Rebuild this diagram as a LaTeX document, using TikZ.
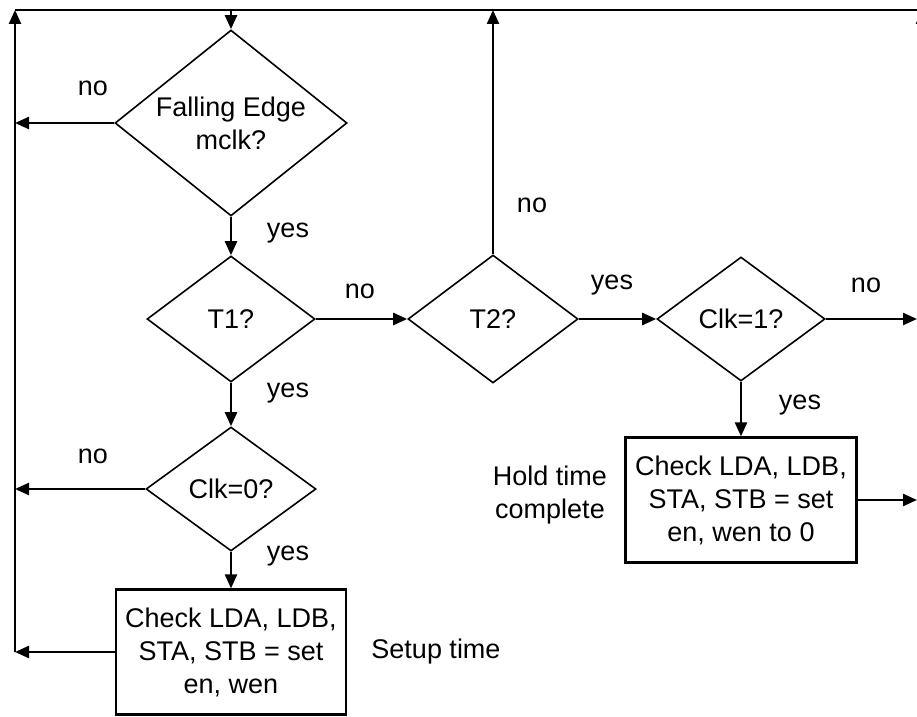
\documentclass[tikz,border=0pt]{standalone}
\usepackage{fontspec}
\setmainfont{Liberation Sans}
\usetikzlibrary{shapes.geometric,arrows.meta}

\begin{document}
\begin{tikzpicture}[x=0.5pt,y=-0.5pt,
  every node/.style={font=\fontsize{13.5}{16.5}\selectfont},
  decision/.style={draw, diamond, aspect=1.25, line width=0.8pt, inner sep=0pt, align=center},
  action/.style={draw, rectangle, line width=1.1pt, inner sep=0pt, align=center},
  flow/.style={line width=1.2pt, -{Triangle[length=7pt,width=6pt]}},
  plain/.style={line width=1.2pt}]
             \useasboundingbox (0,0) rectangle (917,717);

             % decisions
             \node[decision, minimum width=116pt, minimum height=93pt] (edge) at (231,123) {Falling Edge\\mclk?};
             \node[decision, minimum width=84pt, minimum height=63pt] (tone) at (231,319) {T1?};
             \node[decision, minimum width=85pt, minimum height=64pt] (ttwo) at (493,319) {T2?};
             \node[decision, minimum width=84pt, minimum height=62pt] (clkone) at (741,319) {Clk=1?};
             \node[decision, minimum width=85pt, minimum height=62pt] (clkzero) at (231,489) {Clk=0?};

             % actions
             \node[action, minimum width=115pt, minimum height=62.5pt] (setup) at (231,652) {Check LDA, LDB,\\STA, STB = set\\en, wen};
             \node[action, minimum width=115.5pt, minimum height=62.5pt] (hold) at (741,500) {Check LDA, LDB,\\STA, STB = set\\en, wen to 0};

             \node[draw=none] (setuptxt) at (436,652) {Setup time};
             \node[draw=none, align=center] (holdtxt) at (550,495) {Hold time\\complete};

             % return path
             \coordinate (lefttop) at (15,10);
             \coordinate (righttop) at (917,10);
             \coordinate (rightup) at (922,45);
             \draw[plain] (lefttop) -- (righttop);
             \draw[flow] (setup.west -| lefttop) -- (lefttop);
             \draw[flow] (rightup) -- (rightup |- righttop);

             % flow
             \draw[flow] (edge.north |- lefttop) -- (edge);
             \draw[flow] (edge) -- (tone);
             \draw[flow] (tone) -- (clkzero);
             \draw[flow] (clkzero) -- (setup);
             \draw[flow] (tone) -- (ttwo);
             \draw[flow] (ttwo) -- (clkone);
             \draw[flow] (clkone) -- (hold);
             \draw[flow] (edge.west) -- (edge.west -| lefttop);
             \draw[flow] (clkzero.west) -- (clkzero.west -| lefttop);
             \draw[flow] (setup.west) -- (setup.west -| lefttop);
             \draw[flow] (ttwo.north) -- (ttwo.north |- lefttop);
             \draw[flow] (clkone.east) -- (clkone.east -| righttop);
             \draw[flow] (hold.east) -- (hold.east -| righttop);

             % labels
             \node[draw=none] (noedge) at (93,88) {no};
             \node[draw=none] (yesedge) at (288,233) {yes};
             \node[draw=none] (notone) at (360,291) {no};
             \node[draw=none] (yestone) at (288,393) {yes};
             \node[draw=none] (noclkzero) at (93,456) {no};
             \node[draw=none] (yesclkzero) at (288,556) {yes};
             \node[draw=none] (nottwo) at (532,205) {no};
             \node[draw=none] (yesttwo) at (612,285) {yes};
             \node[draw=none] (noclkone) at (866,285) {no};
             \node[draw=none] (yesclkone) at (800,405) {yes};
\end{tikzpicture}
\end{document}
